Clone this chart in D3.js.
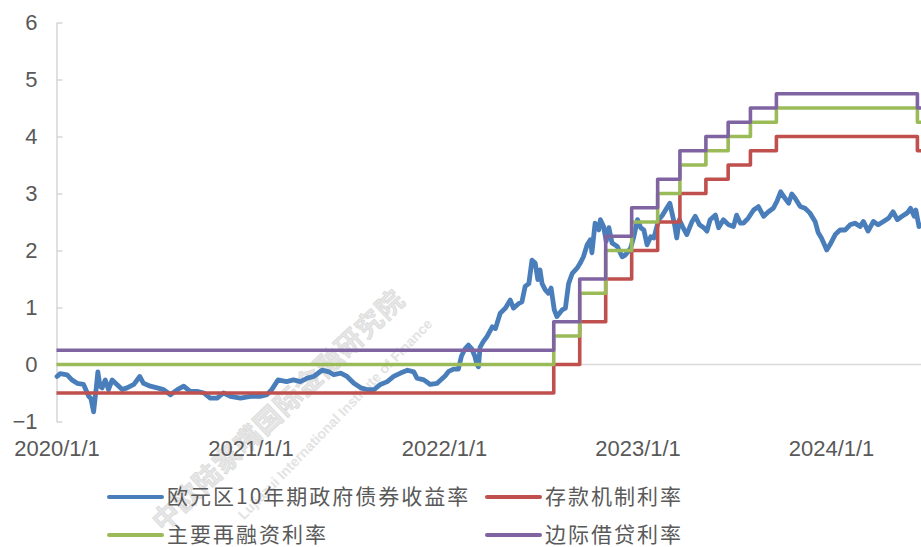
<!DOCTYPE html>
<html>
<head>
<meta charset="utf-8">
<script src="https://cdn.jsdelivr.net/npm/d3@7/dist/d3.min.js"></script>
<style>
  html, body { margin: 0; padding: 0; background: #fff; }
  svg { display: block; }
  .tick text { fill: #595959; font-family: "Liberation Sans", Arial, sans-serif; }
  .legend text { fill: #595959; font-family: "Noto Sans CJK SC", sans-serif; }
</style>
</head>
<body>
<svg id="chart" width="921" height="547"></svg>
<script>
// Euro area 10Y government bond yield (%)
const yieldDates = [
  "2020-01-02","2020-01-08","2020-01-21","2020-01-30","2020-02-09","2020-02-21","2020-03-02","2020-03-06","2020-03-11",
  "2020-03-16","2020-03-19","2020-03-23","2020-03-27","2020-04-02","2020-04-08","2020-04-15","2020-04-24","2020-05-04",
  "2020-05-13","2020-05-26","2020-06-06","2020-06-13","2020-06-26","2020-07-09","2020-07-21","2020-08-03","2020-08-16",
  "2020-08-28","2020-09-09","2020-09-22","2020-10-05","2020-10-17","2020-10-30","2020-11-11","2020-11-24","2020-12-13",
  "2021-01-01","2021-01-19","2021-02-01","2021-02-10","2021-02-22","2021-03-10","2021-03-23","2021-04-05","2021-04-18",
  "2021-04-30","2021-05-16","2021-05-29","2021-06-07","2021-06-20","2021-07-02","2021-07-15","2021-07-28","2021-08-09",
  "2021-08-22","2021-09-03","2021-09-16","2021-09-28","2021-10-11","2021-10-24","2021-11-05","2021-11-11","2021-11-24",
  "2021-12-06","2021-12-19","2022-01-03","2022-01-10","2022-01-19","2022-01-28","2022-02-03","2022-02-10","2022-02-16",
  "2022-02-22","2022-02-28","2022-03-04","2022-03-07","2022-03-10","2022-03-16","2022-03-23","2022-04-02","2022-04-08",
  "2022-04-17","2022-04-27","2022-05-06","2022-05-12","2022-05-22","2022-05-28","2022-06-03","2022-06-10","2022-06-16",
  "2022-06-22","2022-06-27","2022-07-01","2022-07-05","2022-07-11","2022-07-17","2022-07-22","2022-07-28","2022-08-02",
  "2022-08-12","2022-08-18","2022-08-24","2022-08-31","2022-09-09","2022-09-15","2022-09-21","2022-09-28","2022-10-04",
  "2022-10-07","2022-10-13","2022-10-20","2022-10-23","2022-10-29","2022-11-03","2022-11-08","2022-11-14","2022-11-24",
  "2022-12-03","2022-12-09","2022-12-19","2022-12-25","2023-01-01","2023-01-07","2023-01-13","2023-01-19","2023-01-26",
  "2023-02-01","2023-02-10","2023-02-17","2023-02-25","2023-03-03","2023-03-07","2023-03-12","2023-03-16","2023-03-21",
  "2023-03-27","2023-04-04","2023-04-14","2023-04-20","2023-04-28","2023-05-06","2023-05-12","2023-05-18","2023-05-28",
  "2023-06-03","2023-06-12","2023-06-22","2023-07-01","2023-07-07","2023-07-14","2023-07-20","2023-07-29","2023-08-08",
  "2023-08-17","2023-08-27","2023-09-05","2023-09-14","2023-09-21","2023-09-28","2023-10-06","2023-10-13","2023-10-19",
  "2023-10-25","2023-11-04","2023-11-13","2023-11-22","2023-12-02","2023-12-08","2023-12-14","2023-12-24","2023-12-30",
  "2024-01-09","2024-01-18","2024-01-28","2024-02-06","2024-02-15","2024-02-25","2024-03-02","2024-03-11","2024-03-21",
  "2024-03-30","2024-04-09","2024-04-19","2024-04-27","2024-05-05","2024-05-14","2024-05-24","2024-05-30","2024-06-06",
  "2024-06-09","2024-06-15","2024-06-20"
];
const yieldValues = [
  -0.21,-0.16,-0.18,-0.27,-0.33,-0.35,-0.56,-0.6,-0.83,
  -0.41,-0.13,-0.38,-0.41,-0.27,-0.44,-0.27,-0.35,-0.44,
  -0.41,-0.35,-0.21,-0.33,-0.38,-0.41,-0.44,-0.53,-0.44,
  -0.38,-0.47,-0.47,-0.5,-0.59,-0.59,-0.5,-0.56,-0.59,
  -0.56,-0.56,-0.53,-0.44,-0.27,-0.3,-0.27,-0.3,-0.24,
  -0.21,-0.1,-0.13,-0.18,-0.15,-0.21,-0.33,-0.41,-0.44,
  -0.44,-0.35,-0.3,-0.21,-0.15,-0.1,-0.13,-0.24,-0.27,
  -0.35,-0.33,-0.2,-0.12,-0.08,-0.08,0.15,0.28,0.34,
  0.28,0.15,0.0,-0.04,0.3,0.4,0.49,0.66,0.63,
  0.9,0.99,1.13,0.99,1.07,1.1,1.37,1.42,1.83,
  1.78,1.49,1.66,1.42,1.31,1.25,1.34,0.96,0.84,
  0.96,0.99,1.42,1.6,1.69,1.78,1.89,2.1,2.19,
  1.96,2.48,2.36,2.54,2.42,2.16,2.4,2.13,2.07,
  1.89,1.92,2.04,2.24,2.54,2.4,2.36,2.1,2.24,
  2.22,2.54,2.62,2.74,2.83,2.66,2.45,2.22,2.54,
  2.42,2.28,2.51,2.6,2.45,2.4,2.34,2.54,2.62,
  2.4,2.54,2.45,2.42,2.62,2.48,2.48,2.57,2.71,
  2.77,2.6,2.68,2.74,2.86,3.03,2.92,2.83,2.99,
  2.92,2.77,2.74,2.66,2.51,2.31,2.22,2.01,2.1,
  2.28,2.36,2.36,2.45,2.48,2.42,2.51,2.34,2.51,
  2.45,2.51,2.57,2.68,2.54,2.6,2.66,2.74,2.6,
  2.71,2.42,2.45
];

// ECB policy rates (%), effective dates of each change
const rateDates = [
  "2020-01-01","2022-07-27","2022-09-14","2022-11-02","2022-12-21","2023-02-08",
  "2023-03-22","2023-05-10","2023-06-21","2023-08-02","2023-09-20","2024-06-12","2024-06-20"
];
const depositRate = [-0.5, 0, 0.75, 1.5, 2.0, 2.5, 3.0, 3.25, 3.5, 3.75, 4.0, 3.75, 3.75];
const mroRate     = [0, 0.5, 1.25, 2.0, 2.5, 3.0, 3.5, 3.75, 4.0, 4.25, 4.5, 4.25, 4.25];
const mlfRate     = [0.25, 0.75, 1.5, 2.25, 2.75, 3.25, 3.75, 4.0, 4.25, 4.5, 4.75, 4.5, 4.5];

const seriesNames = ["欧元区10年期政府债券收益率", "存款机制利率", "主要再融资利率", "边际借贷利率"];
const seriesColors = ["#4a7ebb", "#c0504d", "#9bbb59", "#8064a2"];

const yTicks = [-1, 0, 1, 2, 3, 4, 5, 6];
const xTickDates = ["2020-01-01", "2021-01-01", "2022-01-01", "2023-01-01", "2024-01-01"];
const xTickLabels = ["2020/1/1", "2021/1/1", "2022/1/1", "2023/1/1", "2024/1/1"];

const parse = d3.utcParse("%Y-%m-%d");
const svg = d3.select("#chart");

const x = d3.scaleUtc()
  .domain([parse("2020-01-01"), parse("2024-01-01")])
  .range([56.5, 831]);
const y = d3.scaleLinear().domain([-1, 6]).range([421.5, 22.5]);

const axisColor = "#d9d9d9";

// watermark, beneath the plotted series
const wm = svg.append("g").attr("pointer-events", "none");
wm.append("text")
  .attr("transform", "translate(280,412) rotate(-43.5)")
  .attr("text-anchor", "middle").attr("dominant-baseline", "middle")
  .style("font-family", "Noto Sans CJK SC").style("font-size", "27px").style("font-weight", "bold")
  .style("letter-spacing", "1px")
  .attr("fill", "#e6e6e6").attr("stroke", "#d8d8d8").attr("stroke-width", 0.6)
  .text("中欧陆家嘴国际金融研究院");
wm.append("text")
  .attr("transform", "translate(336,420) rotate(-46)")
  .attr("text-anchor", "middle").attr("dominant-baseline", "middle")
  .style("font-family", "Liberation Sans, Arial, sans-serif").style("font-size", "14px")
  .style("font-weight", "bold")
  .attr("fill", "#e3e3e3")
  .text("Lujiazui International Institute of Finance");

// y axis: ticks point inward, labels on the left
const yAxis = svg.append("g")
  .attr("transform", `translate(${x(parse("2020-01-01"))},0)`)
  .call(d3.axisLeft(y).tickValues(yTicks).tickSize(-6).tickSizeOuter(0).tickPadding(19)
    .tickFormat(d3.format("d")));
yAxis.select(".domain").attr("stroke", axisColor).attr("stroke-width", 1.6);
yAxis.selectAll(".tick line").attr("stroke", axisColor).attr("stroke-width", 1.6);
yAxis.selectAll(".tick text").style("font-size", "22px");

// x labels along the bottom
const xAxis = svg.append("g")
  .attr("transform", `translate(0,${y(-1)})`)
  .call(d3.axisBottom(x).tickValues(xTickDates.map(parse)).tickSize(0).tickPadding(19)
    .tickFormat((d, i) => xTickLabels[i]));
xAxis.select(".domain").remove();
xAxis.selectAll(".tick text").style("font-size", "22px");

// horizontal axis line at zero
svg.append("line")
  .attr("x1", x(parse("2020-01-01"))).attr("x2", 921)
  .attr("y1", y(0)).attr("y2", y(0))
  .attr("stroke", axisColor).attr("stroke-width", 1.6);

const yieldData = yieldDates.map((d, i) => [parse(d), yieldValues[i]]);
const rateSeries = [depositRate, mroRate, mlfRate].map(vals => rateDates.map((d, i) => [parse(d), vals[i]]));

const smooth = d3.line().x(d => x(d[0])).y(d => y(d[1]));
const step = d3.line().x(d => x(d[0])).y(d => y(d[1])).curve(d3.curveStepAfter);

svg.append("path")
  .attr("d", smooth(yieldData))
  .attr("fill", "none").attr("stroke", seriesColors[0])
  .attr("stroke-width", 4.8).attr("stroke-linejoin", "round").attr("stroke-linecap", "round");

rateSeries.forEach((s, i) => {
  svg.append("path")
    .attr("d", step(s))
    .attr("fill", "none").attr("stroke", seriesColors[i + 1])
    .attr("stroke-width", 3.6).attr("stroke-linejoin", "round");
});

// legend
const legendPos = [[109, 497], [487, 497], [109, 535], [487, 535]];
const legend = svg.append("g").attr("class", "legend");
seriesNames.forEach((name, i) => {
  const [lx, ly] = legendPos[i];
  legend.append("line")
    .attr("x1", lx).attr("x2", lx + 53).attr("y1", ly).attr("y2", ly)
    .attr("stroke", seriesColors[i]).attr("stroke-width", 4).attr("stroke-linecap", "round");
  legend.append("text")
    .attr("x", lx + 58).attr("y", ly).attr("dy", "0.35em")
    .style("font-size", "21px").style("letter-spacing", "2px")
    .text(name);
});
</script>
</body>
</html>
